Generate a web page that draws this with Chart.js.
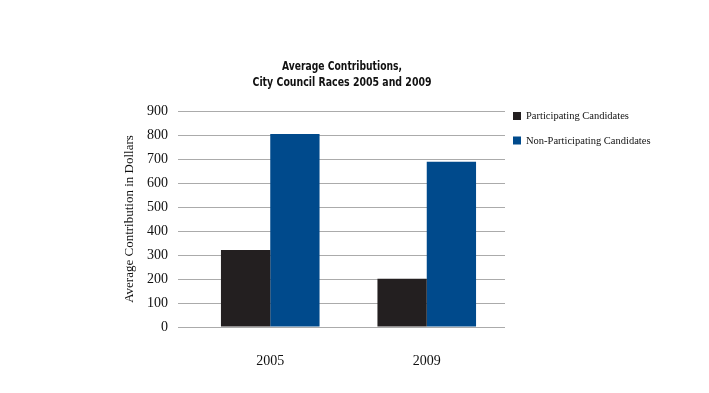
<!DOCTYPE html>
<html><head><meta charset="utf-8">
<script src="https://cdn.jsdelivr.net/npm/chart.js@4.4.1/dist/chart.umd.min.js"></script>
<style>html,body{margin:0;padding:0;background:#fff;}#wrap{width:709px;height:393px;}</style>
</head><body><div id="wrap"><canvas id="c" width="709" height="393"></canvas></div>
<script>
const titleLines = ["Average Contributions,", "City Council Races 2005 and 2009"];
const categories = ["2005", "2009"];
const seriesNames = ["Participating Candidates", "Non-Participating Candidates"];
const participating = [321, 201];
const nonParticipating = [804, 689];
const yTicks = [0, 100, 200, 300, 400, 500, 600, 700, 800, 900];
const yTitle = "Average Contribution in Dollars";
const colors = ["#231f20", "#004a8c"];

const serif = "'Liberation Serif', 'DejaVu Serif', serif";

const decor = {
  id: 'decor',
  afterDraw(chart) {
    const ctx = chart.ctx;
    ctx.save();
    // title
    ctx.fillStyle = '#111';
    ctx.textAlign = 'center';
    ctx.textBaseline = 'middle';
    ctx.font = "bold 13px 'Liberation Sans Narrow', 'DejaVu Sans Condensed', sans-serif";
    const widths = [120, 179];
    titleLines.forEach((t, i) => {
      const w = ctx.measureText(t).width;
      const sx = widths[i] / w;
      ctx.save();
      ctx.translate(342, 67 + i * 16);
      ctx.scale(sx, 1);
      ctx.fillText(t, 0, 0);
      ctx.restore();
    });
    // legend
    ctx.textAlign = 'left';
    ctx.font = "10.5px " + serif;
    chart.data.datasets.forEach((ds, i) => {
      const y = 116 + i * 24.5;
      ctx.fillStyle = ds.backgroundColor;
      ctx.fillRect(513, y - 4, 8, 8);
      ctx.fillStyle = '#111';
      ctx.fillText(ds.label, 526, y + 0.5);
    });
    ctx.restore();
  }
};

new Chart(document.getElementById('c'), {
  type: 'bar',
  data: {
    labels: categories,
    datasets: [
      { label: seriesNames[0], data: participating, backgroundColor: colors[0] },
      { label: seriesNames[1], data: nonParticipating, backgroundColor: colors[1] }
    ]
  },
  options: {
    responsive: false,
    animation: false,
    layout: { padding: { left: 112, right: 204, top: 111, bottom: 0 } },
    plugins: { legend: { display: false }, title: { display: false }, tooltip: { enabled: false } },
    datasets: { bar: { categoryPercentage: 0.63, barPercentage: 1.0 } },
    scales: {
      x: {
        grid: { display: false },
        border: { display: false },
        ticks: { color: '#111', font: { family: serif, size: 14 }, padding: 18 },
        afterFit(s) { s.height = 66; }
      },
      y: {
        min: 0, max: 900,
        afterBuildTicks(s) { s.ticks = yTicks.map(v => ({ value: v })); },
        grid: { color: '#ababab', lineWidth: 1, tickLength: 14, drawTicks: true },
        border: { display: false },
        ticks: { color: '#111', font: { family: serif, size: 14 }, padding: 10 },
        title: { display: true, text: yTitle, color: '#111', font: { family: serif, size: 13 }, padding: { top: 10, bottom: 0 } },
        afterFit(s) { s.width = 80; }
      }
    }
  },
  plugins: [decor]
});
</script>
</body></html>
